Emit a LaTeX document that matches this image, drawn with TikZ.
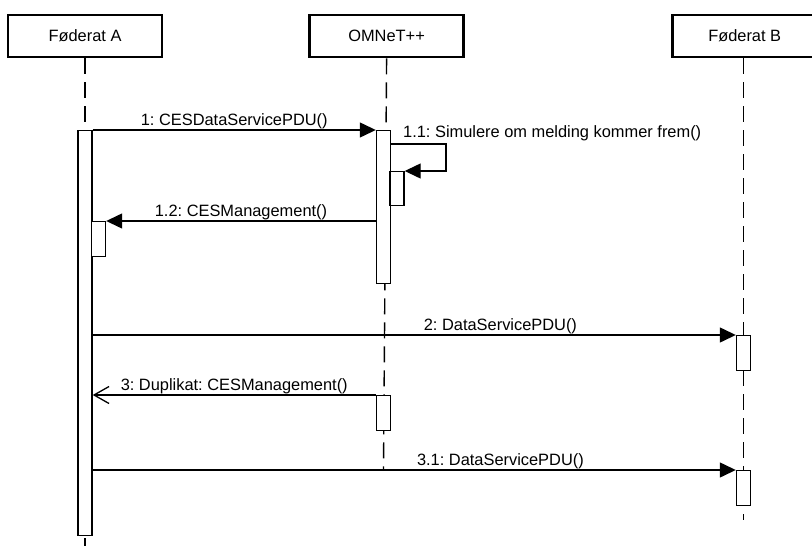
\documentclass[tikz,border=0pt]{standalone}
\usepackage{fontspec}
\setmainfont{Liberation Sans}
\usetikzlibrary{
arrows.meta,
positioning
}
\frenchspacing

\begin{document}
\begin{tikzpicture}[
x=1pt,y=-1pt,
font=\fontsize{16.4}{19}\selectfont,
node distance=145pt,
box/.style={
draw,
line width=2.6pt,
minimum width=154pt,
minimum height=42pt,
inner sep=0pt
},
bar/.style={
draw,
fill=white,
line width=1.4pt,
minimum width=14pt,
inner sep=0pt,
anchor=north
},
life/.style={line width=1.4pt,dash pattern=on 16pt off 8pt},
arrow/.style={line width=1.3pt,-{Triangle[length=16pt,width=15pt]}},
reply/.style={line width=1.3pt,-{Straight Barb[length=15pt,width=17pt,line width=1.3pt]}},
lbl/.style={inner sep=0.5pt,anchor=south}
]
\useasboundingbox (0,0) rectangle (812,549);

% headers
\node[box] (fedA) at (85,36) {Føderat A};
\node[box,right=of fedA] (omnet) {OMNeT++};
\node[box,right=206pt of omnet,minimum width=145pt] (fedB) {Føderat B};

% lifelines
\coordinate (endA) at (85,546);
\coordinate (endO) at (383.5,470);
\coordinate (endB) at (743.5,520);
\draw[life] (fedA.south) -- (endA);
\draw[life] (omnet.south) -- (endO);
\draw[life] (fedB.south -| endB) -- (endB);

% activations
\node[bar,minimum height=405pt] (actA) at (85,130) {};
\node[bar,minimum height=153pt] (actO) at (383.5,130) {};
\node[bar,minimum height=34pt] (actO2) at (397,171) {};
\node[bar,minimum height=35pt] (actA2) at (98.5,221) {};
\node[bar,minimum height=35pt] (actB1) at (743.5,335) {};
\node[bar,minimum height=35pt] (actO3) at (383.5,395) {};
\node[bar,minimum height=35pt] (actB2) at (743.5,470) {};

% messages
\draw[arrow] (actA.north east) -- (actO.north west)
  node[lbl,midway] {1: CESDataServicePDU()};
\coordinate (loop) at (446,144);
\draw[arrow] (actO.east |- loop) -- (loop) |- (actO2.north east);
\node[anchor=base west,inner sep=0pt] (selfmsg) at (403,137) {1.1: Simulere om melding kommer frem()};
\draw[arrow] (actO.west |- actA2.north) -- (actA2.north east)
  node[lbl,midway] {1.2: CESManagement()};
\draw[arrow] (actA.east |- actB1.north) -- (actB1.north west)
  node[lbl,pos=0.634] {2: DataServicePDU()};
\draw[reply] (actO3.north west) -- (actA.east |- actO3.north)
  node[lbl,midway] {3: Duplikat: CESManagement()};
\draw[arrow] (actA.east |- actB2.north) -- (actB2.north west)
  node[lbl,pos=0.634] {3.1: DataServicePDU()};

\end{tikzpicture}
\end{document}
